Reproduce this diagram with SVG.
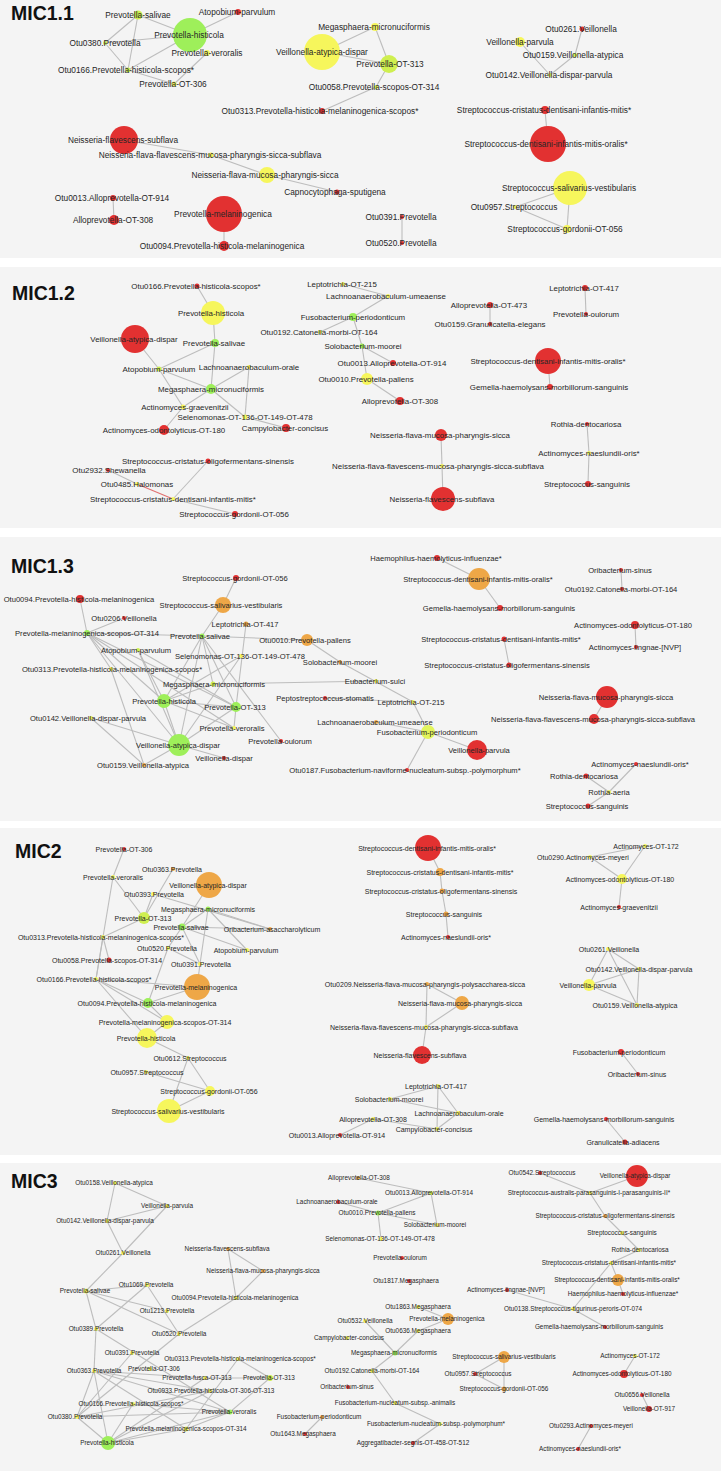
<svg xmlns="http://www.w3.org/2000/svg" width="721" height="1471" viewBox="0 0 721 1471">
<style>
.bg{fill:#f4f4f4}
#connectors line{stroke:#bdbdbd;stroke-width:1.1}
#connectors line.hl{stroke:#e07070}
.r{fill:#e23131}.g{fill:#9eef5a}.y{fill:#f6f65c}.o{fill:#eea747}.yg{fill:#cfef50}
text{font-family:"Liberation Sans",Arial,sans-serif;fill:#262626;text-anchor:middle}
.t1{font-size:8.3px}.t2{font-size:7.9px}.t3{font-size:7.6px}.t4{font-size:7px}.t5{font-size:6.4px}
.ttl{font-size:19.5px;font-weight:bold;fill:#111;text-anchor:start}
</style>
<rect width="721" height="1471" fill="#ffffff"/>
<g id="panels">
<rect class="bg" x="0" y="0" width="721" height="258"/>
<rect class="bg" x="0" y="267" width="721" height="261"/>
<rect class="bg" x="0" y="537" width="721" height="284"/>
<rect class="bg" x="0" y="828" width="721" height="327"/>
<rect class="bg" x="0" y="1163" width="721" height="308"/>
<text class="ttl" x="11" y="20">MIC1.1</text>
<text class="ttl" x="12" y="300">MIC1.2</text>
<text class="ttl" x="11" y="573">MIC1.3</text>
<text class="ttl" x="15" y="858">MIC2</text>
<text class="ttl" x="11" y="1188">MIC3</text>
</g>
<g id="connectors">
<line x1="138" y1="15" x2="190" y2="35"/><line x1="190" y1="35" x2="238" y2="12"/><line x1="138" y1="15" x2="105" y2="43"/><line x1="138" y1="15" x2="128" y2="70"/><line x1="105" y1="43" x2="190" y2="35"/><line x1="105" y1="43" x2="128" y2="70"/><line x1="128" y1="70" x2="190" y2="35"/><line x1="128" y1="70" x2="174" y2="84"/><line x1="207" y1="53" x2="174" y2="84"/>
<line x1="322" y1="52" x2="375" y2="27"/><line x1="375" y1="27" x2="389" y2="64"/><line x1="322" y1="52" x2="389" y2="64"/><line x1="389" y1="64" x2="376" y2="87"/><line x1="376" y1="87" x2="322" y2="111"/>
<line x1="582" y1="29" x2="575" y2="55"/><line x1="575" y1="55" x2="550" y2="75"/><line x1="520" y1="42" x2="550" y2="75"/><line x1="545" y1="110" x2="548" y2="144"/><line x1="570" y1="188" x2="515" y2="207"/><line x1="570" y1="188" x2="567" y2="229"/><line x1="515" y1="207" x2="567" y2="229"/><line x1="402" y1="217" x2="402" y2="243"/>
<line x1="124" y1="140" x2="211" y2="155"/><line x1="211" y1="155" x2="267" y2="175"/><line x1="267" y1="175" x2="337" y2="192"/><line x1="113" y1="198" x2="114" y2="220"/><line x1="224" y1="214" x2="224" y2="246"/>
<line x1="197" y1="286" x2="213" y2="313"/><line x1="213" y1="313" x2="215" y2="343"/><line x1="215" y1="343" x2="159" y2="369"/><line x1="215" y1="343" x2="211" y2="389"/><line x1="135" y1="339" x2="159" y2="369"/><line x1="159" y1="369" x2="183" y2="407"/><line x1="159" y1="369" x2="211" y2="389"/><line x1="211" y1="389" x2="249" y2="367"/><line x1="211" y1="389" x2="245" y2="417"/><line x1="249" y1="367" x2="245" y2="417"/><line x1="245" y1="417" x2="286" y2="428"/><line x1="211" y1="389" x2="183" y2="407"/><line x1="183" y1="407" x2="164" y2="430"/>
<line x1="208" y1="461" x2="173" y2="499"/><line x1="108" y1="470" x2="137" y2="484"/><line class="hl" x1="137" y1="484" x2="173" y2="499"/><line x1="173" y1="499" x2="235" y2="514"/>
<line x1="343" y1="284" x2="388" y2="296"/><line x1="388" y1="296" x2="353" y2="317"/><line x1="353" y1="317" x2="320" y2="332"/><line x1="353" y1="317" x2="362" y2="346"/><line x1="362" y1="346" x2="393" y2="363"/><line x1="362" y1="346" x2="367" y2="379"/><line x1="367" y1="379" x2="400" y2="401"/>
<line x1="490" y1="305" x2="490" y2="324"/><line x1="585" y1="288" x2="586" y2="314"/><line x1="548" y1="361" x2="550" y2="387"/><line x1="587" y1="424" x2="589" y2="453"/><line x1="589" y1="453" x2="588" y2="484"/><line x1="441" y1="435" x2="442" y2="466"/><line x1="442" y1="466" x2="443" y2="499"/>
<line x1="236" y1="578" x2="223" y2="605"/><line x1="223" y1="605" x2="202" y2="636"/><line x1="80" y1="599" x2="87" y2="633"/><line x1="124" y1="618" x2="87" y2="633"/><line x1="87" y1="633" x2="202" y2="636"/><line x1="87" y1="633" x2="164" y2="701"/><line x1="87" y1="633" x2="179" y2="745"/><line x1="87" y1="633" x2="236" y2="707"/><line x1="87" y1="633" x2="234" y2="728"/><line x1="87" y1="633" x2="111" y2="669"/>
<line x1="202" y1="636" x2="164" y2="701"/><line x1="202" y1="636" x2="236" y2="707"/><line x1="202" y1="636" x2="179" y2="745"/><line x1="202" y1="636" x2="213" y2="684"/><line x1="202" y1="636" x2="307" y2="640"/><line x1="202" y1="636" x2="281" y2="741"/><line x1="307" y1="640" x2="340" y2="662"/><line x1="246" y1="624" x2="236" y2="707"/>
<line x1="138" y1="650" x2="164" y2="701"/><line x1="138" y1="650" x2="179" y2="745"/><line x1="138" y1="650" x2="236" y2="707"/><line x1="111" y1="669" x2="144" y2="765"/><line x1="91" y1="718" x2="179" y2="745"/><line x1="91" y1="718" x2="144" y2="765"/><line x1="241" y1="656" x2="179" y2="745"/><line x1="241" y1="656" x2="164" y2="701"/><line x1="213" y1="684" x2="164" y2="701"/><line x1="213" y1="684" x2="376" y2="681"/>
<line x1="164" y1="701" x2="236" y2="707"/><line x1="164" y1="701" x2="234" y2="728"/><line x1="164" y1="701" x2="179" y2="745"/><line x1="236" y1="707" x2="179" y2="745"/><line x1="236" y1="707" x2="234" y2="728"/><line x1="179" y1="745" x2="224" y2="758"/><line x1="179" y1="745" x2="144" y2="765"/>
<line x1="340" y1="662" x2="413" y2="702"/><line x1="325" y1="698" x2="413" y2="702"/><line x1="413" y1="702" x2="428" y2="732"/><line x1="376" y1="722" x2="428" y2="732"/><line x1="428" y1="732" x2="477" y2="750"/><line x1="428" y1="732" x2="407" y2="770"/>
<line x1="437" y1="558" x2="479" y2="579"/><line x1="479" y1="579" x2="500" y2="608"/><line x1="621" y1="570" x2="622" y2="589"/><line x1="635" y1="625" x2="636" y2="647"/><line x1="504" y1="639" x2="509" y2="665"/><line x1="607" y1="697" x2="594" y2="719"/><line x1="636" y1="764" x2="609" y2="792"/><line x1="586" y1="776" x2="609" y2="792"/><line x1="609" y1="792" x2="588" y2="806"/>
<line x1="124" y1="849" x2="113" y2="877"/><line x1="113" y1="877" x2="144" y2="918"/><line x1="113" y1="877" x2="96" y2="979"/><line x1="173" y1="869" x2="144" y2="918"/><line x1="209" y1="885" x2="182" y2="927"/><line x1="153" y1="894" x2="144" y2="918"/><line x1="153" y1="894" x2="270" y2="929"/><line x1="208" y1="909" x2="182" y2="927"/><line x1="208" y1="909" x2="270" y2="929"/><line x1="208" y1="909" x2="247" y2="950"/><line x1="208" y1="909" x2="200" y2="964"/><line x1="144" y1="918" x2="103" y2="937"/>
<line x1="182" y1="927" x2="270" y2="929"/><line x1="182" y1="927" x2="247" y2="950"/><line x1="182" y1="927" x2="168" y2="948"/><line x1="182" y1="927" x2="200" y2="964"/><line x1="103" y1="937" x2="109" y2="960"/><line x1="103" y1="937" x2="96" y2="979"/><line x1="168" y1="948" x2="200" y2="964"/><line x1="168" y1="948" x2="148" y2="1003"/><line x1="200" y1="964" x2="197" y2="987"/>
<line x1="96" y1="979" x2="197" y2="987"/><line x1="96" y1="979" x2="148" y2="1003"/><line x1="96" y1="979" x2="167" y2="1022"/><line x1="96" y1="979" x2="147" y2="1038"/><line x1="148" y1="1003" x2="197" y2="987"/><line x1="148" y1="1003" x2="167" y2="1022"/><line x1="167" y1="1022" x2="147" y2="1038"/><line x1="147" y1="1038" x2="188" y2="1058"/><line x1="188" y1="1058" x2="210" y2="1091"/><line x1="188" y1="1058" x2="169" y2="1111"/><line x1="146" y1="1072" x2="210" y2="1091"/><line x1="210" y1="1091" x2="169" y2="1111"/>
<line x1="428" y1="848" x2="440" y2="872"/><line x1="440" y1="872" x2="442" y2="891"/><line x1="442" y1="891" x2="446" y2="914"/><line x1="446" y1="914" x2="448" y2="937"/><line x1="427" y1="984" x2="462" y2="1003"/><line x1="427" y1="984" x2="426" y2="1027"/><line x1="462" y1="1003" x2="426" y2="1027"/><line x1="426" y1="1027" x2="422" y2="1055"/>
<line x1="438" y1="1086" x2="390" y2="1099"/><line x1="438" y1="1086" x2="458" y2="1113"/><line x1="438" y1="1086" x2="437" y2="1129"/><line x1="390" y1="1099" x2="458" y2="1113"/><line x1="373" y1="1119" x2="437" y2="1129"/><line x1="458" y1="1113" x2="437" y2="1129"/><line x1="340" y1="1135" x2="373" y2="1119"/>
<line x1="645" y1="846" x2="590" y2="857"/><line x1="645" y1="846" x2="622" y2="879"/><line x1="590" y1="857" x2="622" y2="879"/><line x1="622" y1="879" x2="619" y2="907"/><line x1="608" y1="949" x2="639" y2="969"/><line x1="608" y1="949" x2="589" y2="985"/><line x1="608" y1="949" x2="637" y2="1005"/><line x1="639" y1="969" x2="589" y2="985"/><line x1="639" y1="969" x2="637" y2="1005"/><line x1="589" y1="985" x2="637" y2="1005"/><line x1="621" y1="1052" x2="638" y2="1074"/><line x1="606" y1="1119" x2="625" y2="1142"/>
<line x1="115" y1="1183" x2="167" y2="1206"/><line x1="115" y1="1183" x2="107" y2="1221"/><line x1="167" y1="1206" x2="107" y2="1221"/><line x1="107" y1="1221" x2="123" y2="1253"/><line x1="167" y1="1206" x2="123" y2="1253"/><line x1="123" y1="1253" x2="86" y2="1291"/><line x1="228" y1="1249" x2="263" y2="1271"/><line x1="228" y1="1249" x2="236" y2="1298"/><line x1="263" y1="1271" x2="236" y2="1298"/>
<line x1="86" y1="1291" x2="147" y2="1285"/><line x1="86" y1="1291" x2="167" y2="1311"/><line x1="86" y1="1291" x2="179" y2="1334"/><line x1="86" y1="1291" x2="96" y2="1329"/><line x1="147" y1="1285" x2="96" y2="1329"/><line x1="147" y1="1285" x2="179" y2="1334"/><line x1="236" y1="1298" x2="179" y2="1334"/><line x1="96" y1="1329" x2="94" y2="1371"/><line x1="96" y1="1329" x2="230" y2="1412"/><line x1="179" y1="1334" x2="77" y2="1417"/><line x1="132" y1="1353" x2="77" y2="1417"/>
<line x1="238" y1="1359" x2="270" y2="1378"/><line x1="238" y1="1359" x2="186" y2="1429"/><line x1="94" y1="1371" x2="230" y2="1412"/><line x1="94" y1="1371" x2="186" y2="1429"/><line x1="94" y1="1371" x2="210" y2="1391"/><line x1="94" y1="1371" x2="108" y2="1443"/><line x1="94" y1="1371" x2="77" y2="1417"/><line x1="94" y1="1371" x2="205" y2="1378"/><line x1="205" y1="1378" x2="270" y2="1378"/><line x1="270" y1="1378" x2="230" y2="1412"/><line x1="210" y1="1391" x2="77" y2="1417"/>
<line x1="133" y1="1404" x2="230" y2="1412"/><line x1="133" y1="1404" x2="108" y2="1443"/><line x1="77" y1="1417" x2="230" y2="1412"/><line x1="77" y1="1417" x2="108" y2="1443"/><line x1="230" y1="1412" x2="108" y2="1443"/><line x1="230" y1="1412" x2="186" y2="1429"/><line x1="186" y1="1429" x2="108" y2="1443"/><line x1="205" y1="1378" x2="108" y2="1443"/><line x1="210" y1="1391" x2="108" y2="1443"/>
<line x1="358" y1="1178" x2="431" y2="1193"/><line x1="431" y1="1193" x2="378" y2="1213"/><line x1="431" y1="1193" x2="437" y2="1225"/><line x1="338" y1="1202" x2="378" y2="1213"/><line x1="378" y1="1213" x2="437" y2="1225"/><line x1="378" y1="1213" x2="381" y2="1239"/>
<line x1="418" y1="1307" x2="448" y2="1319"/><line x1="448" y1="1319" x2="418" y2="1331"/><line x1="418" y1="1331" x2="395" y2="1353"/><line x1="365" y1="1321" x2="395" y2="1353"/><line x1="395" y1="1353" x2="372" y2="1371"/><line x1="372" y1="1371" x2="395" y2="1403"/><line x1="395" y1="1403" x2="440" y2="1424"/><line x1="440" y1="1424" x2="413" y2="1443"/><line x1="322" y1="1417" x2="305" y2="1434"/>
<line x1="540" y1="1173" x2="590" y2="1193"/><line x1="637" y1="1176" x2="590" y2="1193"/><line x1="590" y1="1193" x2="605" y2="1216"/><line x1="605" y1="1216" x2="622" y2="1233"/><line x1="622" y1="1233" x2="639" y2="1250"/><line x1="639" y1="1250" x2="611" y2="1263"/><line x1="611" y1="1263" x2="618" y2="1280"/><line x1="618" y1="1280" x2="623" y2="1294"/><line x1="611" y1="1263" x2="573" y2="1309"/><line x1="507" y1="1290" x2="573" y2="1309"/><line x1="573" y1="1309" x2="605" y2="1327"/>
<line x1="504" y1="1357" x2="475" y2="1374"/><line x1="504" y1="1357" x2="504" y2="1389"/><line x1="475" y1="1374" x2="504" y2="1389"/><line x1="635" y1="1356" x2="624" y2="1374"/><line x1="642" y1="1395" x2="649" y2="1409"/><line x1="591" y1="1426" x2="578" y2="1449"/>
</g>
<g id="nodes-mic1-1">
<g id="n1-1"><circle class="yg" cx="138" cy="15" r="4.5"/><text class="t1" x="138" y="18">Prevotella-salivae</text></g>
<g id="n1-2"><circle class="r" cx="238" cy="12" r="3"/><text class="t1" x="237" y="15">Atopobium-parvulum</text></g>
<g id="n1-3"><circle class="g" cx="190" cy="35" r="17"/><text class="t1" x="189" y="38">Prevotella-histicola</text></g>
<g id="n1-4"><circle class="yg" cx="105" cy="43" r="2"/><text class="t1" x="105" y="46">Otu0380.Prevotella</text></g>
<g id="n1-5"><circle class="y" cx="207" cy="53" r="3"/><text class="t1" x="207" y="56">Prevotella-veroralis</text></g>
<g id="n1-6"><circle class="yg" cx="128" cy="70" r="2.5"/><text class="t1" x="126" y="73">Otu0166.Prevotella-histicola-scopos*</text></g>
<g id="n1-7"><circle class="y" cx="174" cy="84" r="2.5"/><text class="t1" x="173" y="87">Prevotella-OT-306</text></g>
<g id="n1-8"><circle class="y" cx="375" cy="27" r="4"/><text class="t1" x="374" y="30">Megasphaera-micronuciformis</text></g>
<g id="n1-9"><circle class="y" cx="322" cy="52" r="18"/><text class="t1" x="322" y="55">Veillonella-atypica-dispar</text></g>
<g id="n1-10"><circle class="yg" cx="389" cy="64" r="9"/><text class="t1" x="390" y="67">Prevotella-OT-313</text></g>
<g id="n1-11"><circle class="yg" cx="376" cy="87" r="2"/><text class="t1" x="374" y="90">Otu0058.Prevotella-scopos-OT-314</text></g>
<g id="n1-12"><circle class="r" cx="322" cy="111" r="3"/><text class="t1" x="320" y="114">Otu0313.Prevotella-histicola-melaninogenica-scopos*</text></g>
<g id="n1-13"><circle class="r" cx="582" cy="29" r="2.5"/><text class="t1" x="581" y="32">Otu0261.Veillonella</text></g>
<g id="n1-14"><circle class="y" cx="520" cy="42" r="5"/><text class="t1" x="520" y="45">Veillonella-parvula</text></g>
<g id="n1-15"><circle class="yg" cx="575" cy="55" r="2"/><text class="t1" x="573" y="58">Otu0159.Veillonella-atypica</text></g>
<g id="n1-16"><circle class="y" cx="550" cy="75" r="2"/><text class="t1" x="549" y="78">Otu0142.Veillonella-dispar-parvula</text></g>
<g id="n1-17"><circle class="r" cx="545" cy="110" r="4"/><text class="t1" x="544" y="113">Streptococcus-cristatus-dentisani-infantis-mitis*</text></g>
<g id="n1-18"><circle class="r" cx="548" cy="144" r="18"/><text class="t1" x="546" y="147">Streptococcus-dentisani-infantis-mitis-oralis*</text></g>
<g id="n1-19"><circle class="y" cx="570" cy="188" r="17"/><text class="t1" x="569" y="191">Streptococcus-salivarius-vestibularis</text></g>
<g id="n1-20"><circle class="y" cx="515" cy="207" r="2"/><text class="t1" x="514" y="210">Otu0957.Streptococcus</text></g>
<g id="n1-21"><circle class="y" cx="567" cy="229" r="4"/><text class="t1" x="565" y="232">Streptococcus-gordonii-OT-056</text></g>
<g id="n1-22"><circle class="r" cx="402" cy="217" r="2"/><text class="t1" x="401" y="220">Otu0391.Prevotella</text></g>
<g id="n1-23"><circle class="r" cx="402" cy="243" r="2"/><text class="t1" x="401" y="246">Otu0520.Prevotella</text></g>
<g id="n1-24"><circle class="r" cx="124" cy="140" r="14"/><text class="t1" x="123" y="143">Neisseria-flavescens-subflava</text></g>
<g id="n1-25"><circle class="y" cx="211" cy="155" r="2.5"/><text class="t1" x="210" y="158">Neisseria-flava-flavescens-mucosa-pharyngis-sicca-subflava</text></g>
<g id="n1-26"><circle class="y" cx="267" cy="175" r="8"/><text class="t1" x="265" y="178">Neisseria-flava-mucosa-pharyngis-sicca</text></g>
<g id="n1-27"><circle class="r" cx="337" cy="192" r="2.5"/><text class="t1" x="335" y="195">Capnocytophaga-sputigena</text></g>
<g id="n1-28"><circle class="r" cx="113" cy="198" r="3"/><text class="t1" x="112" y="201">Otu0013.Alloprevotella-OT-914</text></g>
<g id="n1-29"><circle class="r" cx="114" cy="220" r="5"/><text class="t1" x="113" y="223">Alloprevotella-OT-308</text></g>
<g id="n1-30"><circle class="r" cx="224" cy="214" r="18"/><text class="t1" x="223" y="217">Prevotella-melaninogenica</text></g>
<g id="n1-31"><circle class="r" cx="224" cy="246" r="5"/><text class="t1" x="222" y="249">Otu0094.Prevotella-histicola-melaninogenica</text></g>
</g>
<g id="nodes-mic1-2">
<g id="n2-1"><circle class="r" cx="197" cy="286" r="2.5"/><text class="t2" x="196" y="289">Otu0166.Prevotella-histicola-scopos*</text></g>
<g id="n2-2"><circle class="y" cx="213" cy="313" r="12"/><text class="t2" x="211" y="316">Prevotella-histicola</text></g>
<g id="n2-3"><circle class="r" cx="135" cy="339" r="14"/><text class="t2" x="134" y="342">Veillonella-atypica-dispar</text></g>
<g id="n2-4"><circle class="g" cx="215" cy="343" r="4"/><text class="t2" x="214" y="346">Prevotella-salivae</text></g>
<g id="n2-5"><circle class="yg" cx="159" cy="369" r="2.5"/><text class="t2" x="159" y="372">Atopobium-parvulum</text></g>
<g id="n2-6"><circle class="y" cx="249" cy="367" r="2"/><text class="t2" x="249" y="370">Lachnoanaerobaculum-orale</text></g>
<g id="n2-7"><circle class="g" cx="211" cy="389" r="5"/><text class="t2" x="211" y="392">Megasphaera-micronuciformis</text></g>
<g id="n2-8"><circle class="y" cx="183" cy="407" r="2.5"/><text class="t2" x="185" y="410">Actinomyces-graevenitzii</text></g>
<g id="n2-9"><circle class="y" cx="245" cy="417" r="2.5"/><text class="t2" x="245" y="420">Selenomonas-OT-136-OT-149-OT-478</text></g>
<g id="n2-10"><circle class="r" cx="164" cy="430" r="5"/><text class="t2" x="164" y="433">Actinomyces-odontolyticus-OT-180</text></g>
<g id="n2-11"><circle class="r" cx="286" cy="428" r="4"/><text class="t2" x="285" y="431">Campylobacter-concisus</text></g>
<g id="n2-12"><circle class="r" cx="208" cy="461" r="2.5"/><text class="t2" x="208" y="464">Streptococcus-cristatus-oligofermentans-sinensis</text></g>
<g id="n2-13"><circle class="r" cx="108" cy="470" r="2"/><text class="t2" x="109" y="473">Otu2932.Shewanella</text></g>
<g id="n2-14"><circle class="y" cx="137" cy="484" r="2"/><text class="t2" x="137" y="487">Otu0485.Halomonas</text></g>
<g id="n2-15"><circle class="y" cx="173" cy="499" r="2"/><text class="t2" x="173" y="502">Streptococcus-cristatus-dentisani-infantis-mitis*</text></g>
<g id="n2-16"><circle class="r" cx="235" cy="514" r="3"/><text class="t2" x="234" y="517">Streptococcus-gordonii-OT-056</text></g>
<g id="n2-17"><circle class="y" cx="343" cy="284" r="2"/><text class="t2" x="342" y="287">Leptotrichia-OT-215</text></g>
<g id="n2-18"><circle class="y" cx="388" cy="296" r="2"/><text class="t2" x="386" y="299">Lachnoanaerobaculum-umeaense</text></g>
<g id="n2-19"><circle class="g" cx="353" cy="317" r="4"/><text class="t2" x="353" y="320">Fusobacterium-periodonticum</text></g>
<g id="n2-20"><circle class="y" cx="320" cy="332" r="2"/><text class="t2" x="319" y="335">Otu0192.Catonella-morbi-OT-164</text></g>
<g id="n2-21"><circle class="g" cx="362" cy="346" r="2.5"/><text class="t2" x="363" y="349">Solobacterium-moorei</text></g>
<g id="n2-22"><circle class="r" cx="393" cy="363" r="3"/><text class="t2" x="392" y="366">Otu0013.Alloprevotella-OT-914</text></g>
<g id="n2-23"><circle class="y" cx="367" cy="379" r="6"/><text class="t2" x="366" y="382">Otu0010.Prevotella-pallens</text></g>
<g id="n2-24"><circle class="r" cx="400" cy="401" r="4"/><text class="t2" x="400" y="404">Alloprevotella-OT-308</text></g>
<g id="n2-25"><circle class="r" cx="490" cy="305" r="3"/><text class="t2" x="489" y="308">Alloprevotella-OT-473</text></g>
<g id="n2-26"><circle class="r" cx="490" cy="324" r="2"/><text class="t2" x="490" y="327">Otu0159.Granulicatella-elegans</text></g>
<g id="n2-27"><circle class="r" cx="585" cy="288" r="3"/><text class="t2" x="584" y="291">Leptotrichia-OT-417</text></g>
<g id="n2-28"><circle class="r" cx="586" cy="314" r="2"/><text class="t2" x="586" y="317">Prevotella-oulorum</text></g>
<g id="n2-29"><circle class="r" cx="548" cy="361" r="13"/><text class="t2" x="548" y="364">Streptococcus-dentisani-infantis-mitis-oralis*</text></g>
<g id="n2-30"><circle class="r" cx="550" cy="387" r="3"/><text class="t2" x="549" y="390">Gemella-haemolysans-morbillorum-sanguinis</text></g>
<g id="n2-31"><circle class="r" cx="587" cy="424" r="2"/><text class="t2" x="586" y="427">Rothia-dentocariosa</text></g>
<g id="n2-32"><circle class="y" cx="589" cy="453" r="2"/><text class="t2" x="589" y="456">Actinomyces-naeslundii-oris*</text></g>
<g id="n2-33"><circle class="r" cx="588" cy="484" r="3"/><text class="t2" x="587" y="487">Streptococcus-sanguinis</text></g>
<g id="n2-34"><circle class="r" cx="441" cy="435" r="6"/><text class="t2" x="440" y="438">Neisseria-flava-mucosa-pharyngis-sicca</text></g>
<g id="n2-35"><circle class="y" cx="442" cy="466" r="2"/><text class="t2" x="438" y="469">Neisseria-flava-flavescens-mucosa-pharyngis-sicca-subflava</text></g>
<g id="n2-36"><circle class="r" cx="443" cy="499" r="12"/><text class="t2" x="442" y="502">Neisseria-flavescens-subflava</text></g>
</g>
<g id="nodes-mic1-3">
<g id="n3-1"><circle class="r" cx="236" cy="578" r="3"/><text class="t3" x="235" y="581">Streptococcus-gordonii-OT-056</text></g>
<g id="n3-2"><circle class="r" cx="80" cy="599" r="4"/><text class="t3" x="79" y="602">Otu0094.Prevotella-histicola-melaninogenica</text></g>
<g id="n3-3"><circle class="o" cx="223" cy="605" r="8"/><text class="t3" x="221" y="608">Streptococcus-salivarius-vestibularis</text></g>
<g id="n3-4"><circle class="r" cx="124" cy="618" r="2"/><text class="t3" x="124" y="621">Otu0206.Veillonella</text></g>
<g id="n3-5"><circle class="o" cx="246" cy="624" r="2.5"/><text class="t3" x="245" y="627">Leptotrichia-OT-417</text></g>
<g id="n3-6"><circle class="g" cx="87" cy="633" r="3"/><text class="t3" x="87" y="636">Prevotella-melaninogenica-scopos-OT-314</text></g>
<g id="n3-7"><circle class="g" cx="202" cy="636" r="2.5"/><text class="t3" x="200" y="639">Prevotella-salivae</text></g>
<g id="n3-8"><circle class="o" cx="307" cy="640" r="6"/><text class="t3" x="305" y="643">Otu0010.Prevotella-pallens</text></g>
<g id="n3-9"><circle class="yg" cx="138" cy="650" r="2"/><text class="t3" x="136" y="653">Atopobium-parvulum</text></g>
<g id="n3-10"><circle class="y" cx="241" cy="656" r="2"/><text class="t3" x="240" y="659">Selenomonas-OT-136-OT-149-OT-478</text></g>
<g id="n3-11"><circle class="o" cx="340" cy="662" r="2"/><text class="t3" x="340" y="665">Solobacterium-moorei</text></g>
<g id="n3-12"><circle class="y" cx="111" cy="669" r="2"/><text class="t3" x="112" y="672">Otu0313.Prevotella-histicola-melaninogenica-scopos*</text></g>
<g id="n3-13"><circle class="y" cx="376" cy="681" r="2"/><text class="t3" x="375" y="684">Eubacterium-sulci</text></g>
<g id="n3-14"><circle class="yg" cx="213" cy="684" r="2.5"/><text class="t3" x="214" y="687">Megasphaera-micronuciformis</text></g>
<g id="n3-15"><circle class="r" cx="325" cy="698" r="2"/><text class="t3" x="325" y="701">Peptostreptococcus-stomatis</text></g>
<g id="n3-16"><circle class="g" cx="164" cy="701" r="7"/><text class="t3" x="164" y="704">Prevotella-histicola</text></g>
<g id="n3-17"><circle class="g" cx="236" cy="707" r="5"/><text class="t3" x="235" y="710">Prevotella-OT-313</text></g>
<g id="n3-18"><circle class="y" cx="413" cy="702" r="2"/><text class="t3" x="411" y="705">Leptotrichia-OT-215</text></g>
<g id="n3-19"><circle class="y" cx="91" cy="718" r="2"/><text class="t3" x="88" y="721">Otu0142.Veillonella-dispar-parvula</text></g>
<g id="n3-20"><circle class="o" cx="376" cy="722" r="2"/><text class="t3" x="375" y="725">Lachnoanaerobaculum-umeaense</text></g>
<g id="n3-21"><circle class="y" cx="234" cy="728" r="2"/><text class="t3" x="232" y="731">Prevotella-veroralis</text></g>
<g id="n3-22"><circle fill="#e2f55c" cx="428" cy="732" r="7"/><text class="t3" x="427" y="735">Fusobacterium-periodonticum</text></g>
<g id="n3-23"><circle class="r" cx="281" cy="741" r="2"/><text class="t3" x="280" y="744">Prevotella-oulorum</text></g>
<g id="n3-24"><circle class="g" cx="179" cy="745" r="11"/><text class="t3" x="178" y="748">Veillonella-atypica-dispar</text></g>
<g id="n3-25"><circle class="r" cx="477" cy="750" r="10"/><text class="t3" x="479" y="753">Veillonella-parvula</text></g>
<g id="n3-26"><circle class="r" cx="224" cy="758" r="2"/><text class="t3" x="224" y="761">Veillonella-dispar</text></g>
<g id="n3-27"><circle class="o" cx="144" cy="765" r="2"/><text class="t3" x="143" y="768">Otu0159.Veillonella-atypica</text></g>
<g id="n3-28"><circle class="r" cx="407" cy="770" r="2"/><text class="t3" x="405" y="773">Otu0187.Fusobacterium-naviforme-nucleatum-subsp.-polymorphum*</text></g>
<g id="n3-29"><circle class="r" cx="437" cy="558" r="3"/><text class="t3" x="436" y="561">Haemophilus-haemolyticus-influenzae*</text></g>
<g id="n3-30"><circle class="o" cx="479" cy="579" r="11"/><text class="t3" x="478" y="582">Streptococcus-dentisani-infantis-mitis-oralis*</text></g>
<g id="n3-31"><circle class="r" cx="500" cy="608" r="3"/><text class="t3" x="499" y="611">Gemella-haemolysans-morbillorum-sanguinis</text></g>
<g id="n3-32"><circle class="r" cx="621" cy="570" r="2"/><text class="t3" x="620" y="573">Oribacterium-sinus</text></g>
<g id="n3-33"><circle class="r" cx="622" cy="589" r="2"/><text class="t3" x="621" y="592">Otu0192.Catonella-morbi-OT-164</text></g>
<g id="n3-34"><circle class="r" cx="635" cy="625" r="4"/><text class="t3" x="633" y="628">Actinomyces-odontolyticus-OT-180</text></g>
<g id="n3-35"><circle class="r" cx="636" cy="647" r="2"/><text class="t3" x="635" y="650">Actinomyces-lingnae-[NVP]</text></g>
<g id="n3-36"><circle class="r" cx="504" cy="639" r="2.5"/><text class="t3" x="501" y="642">Streptococcus-cristatus-dentisani-infantis-mitis*</text></g>
<g id="n3-37"><circle class="r" cx="509" cy="665" r="2.5"/><text class="t3" x="507" y="668">Streptococcus-cristatus-oligofermentans-sinensis</text></g>
<g id="n3-38"><circle class="r" cx="607" cy="697" r="11"/><text class="t3" x="606" y="700">Neisseria-flava-mucosa-pharyngis-sicca</text></g>
<g id="n3-39"><circle class="r" cx="594" cy="719" r="5"/><text class="t3" x="593" y="722">Neisseria-flava-flavescens-mucosa-pharyngis-sicca-subflava</text></g>
<g id="n3-40"><circle class="r" cx="636" cy="764" r="2"/><text class="t3" x="640" y="767">Actinomyces-naeslundii-oris*</text></g>
<g id="n3-41"><circle class="r" cx="586" cy="776" r="2.5"/><text class="t3" x="584" y="779">Rothia-dentocariosa</text></g>
<g id="n3-42"><circle class="y" cx="609" cy="792" r="2"/><text class="t3" x="609" y="795">Rothia-aeria</text></g>
<g id="n3-43"><circle class="r" cx="588" cy="806" r="2.5"/><text class="t3" x="587" y="809">Streptococcus-sanguinis</text></g>
</g>
<g id="nodes-mic2">
<g id="n4-1"><circle class="r" cx="124" cy="849" r="2"/><text class="t4" x="124" y="851.5">Prevotella-OT-306</text></g>
<g id="n4-2"><circle class="o" cx="173" cy="869" r="2"/><text class="t4" x="172" y="871.5">Otu0363.Prevotella</text></g>
<g id="n4-3"><circle class="y" cx="113" cy="877" r="2"/><text class="t4" x="113" y="879.5">Prevotella-veroralis</text></g>
<g id="n4-4"><circle class="o" cx="209" cy="885" r="13"/><text class="t4" x="208" y="887.5">Veillonella-atypica-dispar</text></g>
<g id="n4-5"><circle class="y" cx="153" cy="894" r="2"/><text class="t4" x="154" y="896.5">Otu0393.Prevotella</text></g>
<g id="n4-6"><circle class="g" cx="208" cy="909" r="2.5"/><text class="t4" x="208" y="911.5">Megasphaera-micronuciformis</text></g>
<g id="n4-7"><circle class="yg" cx="144" cy="918" r="6"/><text class="t4" x="143" y="920.5">Prevotella-OT-313</text></g>
<g id="n4-8"><circle class="g" cx="182" cy="927" r="3.5"/><text class="t4" x="181" y="929.5">Prevotella-salivae</text></g>
<g id="n4-9"><circle class="o" cx="270" cy="929" r="2"/><text class="t4" x="272" y="931.5">Oribacterium-asaccharolyticum</text></g>
<g id="n4-10"><circle class="y" cx="103" cy="937" r="2"/><text class="t4" x="101" y="939.5">Otu0313.Prevotella-histicola-melaninogenica-scopos*</text></g>
<g id="n4-11"><circle class="y" cx="168" cy="948" r="2"/><text class="t4" x="167" y="950.5">Otu0520.Prevotella</text></g>
<g id="n4-12"><circle class="y" cx="247" cy="950" r="2"/><text class="t4" x="246" y="952.5">Atopobium-parvulum</text></g>
<g id="n4-13"><circle class="r" cx="109" cy="960" r="2.5"/><text class="t4" x="107" y="962.5">Otu0058.Prevotella-scopos-OT-314</text></g>
<g id="n4-14"><circle class="y" cx="200" cy="964" r="2"/><text class="t4" x="201" y="966.5">Otu0391.Prevotella</text></g>
<g id="n4-15"><circle class="y" cx="96" cy="979" r="2"/><text class="t4" x="94" y="981.5">Otu0166.Prevotella-histicola-scopos*</text></g>
<g id="n4-16"><circle class="o" cx="197" cy="987" r="13"/><text class="t4" x="196" y="989.5">Prevotella-melaninogenica</text></g>
<g id="n4-17"><circle class="g" cx="148" cy="1003" r="5"/><text class="t4" x="147" y="1005.5">Otu0094.Prevotella-histicola-melaninogenica</text></g>
<g id="n4-18"><circle class="y" cx="167" cy="1022" r="7"/><text class="t4" x="165" y="1024.5">Prevotella-melaninogenica-scopos-OT-314</text></g>
<g id="n4-19"><circle class="y" cx="147" cy="1038" r="10"/><text class="t4" x="146" y="1040.5">Prevotella-histicola</text></g>
<g id="n4-20"><circle class="y" cx="188" cy="1058" r="2"/><text class="t4" x="190" y="1060.5">Otu0612.Streptococcus</text></g>
<g id="n4-21"><circle class="y" cx="146" cy="1072" r="2"/><text class="t4" x="147" y="1074.5">Otu0957.Streptococcus</text></g>
<g id="n4-22"><circle class="y" cx="210" cy="1091" r="5"/><text class="t4" x="209" y="1093.5">Streptococcus-gordonii-OT-056</text></g>
<g id="n4-23"><circle class="y" cx="169" cy="1111" r="12"/><text class="t4" x="168" y="1113.5">Streptococcus-salivarius-vestibularis</text></g>
<g id="n4-24"><circle class="r" cx="428" cy="848" r="13"/><text class="t4" x="427" y="850.5">Streptococcus-dentisani-infantis-mitis-oralis*</text></g>
<g id="n4-25"><circle class="o" cx="440" cy="872" r="4"/><text class="t4" x="440" y="874.5">Streptococcus-cristatus-dentisani-infantis-mitis*</text></g>
<g id="n4-26"><circle class="o" cx="442" cy="891" r="2.5"/><text class="t4" x="441" y="893.5">Streptococcus-cristatus-oligofermentans-sinensis</text></g>
<g id="n4-27"><circle class="o" cx="446" cy="914" r="2.5"/><text class="t4" x="444" y="916.5">Streptococcus-sanguinis</text></g>
<g id="n4-28"><circle class="r" cx="448" cy="937" r="2"/><text class="t4" x="446" y="939.5">Actinomyces-naeslundii-oris*</text></g>
<g id="n4-29"><circle class="o" cx="427" cy="984" r="2"/><text class="t4" x="425" y="986.5">Otu0209.Neisseria-flava-mucosa-pharyngis-polysaccharea-sicca</text></g>
<g id="n4-30"><circle class="o" cx="462" cy="1003" r="7"/><text class="t4" x="460" y="1005.5">Neisseria-flava-mucosa-pharyngis-sicca</text></g>
<g id="n4-31"><circle class="y" cx="426" cy="1027" r="2"/><text class="t4" x="424" y="1029.5">Neisseria-flava-flavescens-mucosa-pharyngis-sicca-subflava</text></g>
<g id="n4-32"><circle class="r" cx="422" cy="1055" r="9"/><text class="t4" x="420" y="1057.5">Neisseria-flavescens-subflava</text></g>
<g id="n4-33"><circle class="y" cx="438" cy="1086" r="2"/><text class="t4" x="436" y="1088.5">Leptotrichia-OT-417</text></g>
<g id="n4-34"><circle class="y" cx="390" cy="1099" r="2"/><text class="t4" x="389" y="1101.5">Solobacterium-moorei</text></g>
<g id="n4-35"><circle class="y" cx="458" cy="1113" r="2"/><text class="t4" x="459" y="1115.5">Lachnoanaerobaculum-orale</text></g>
<g id="n4-36"><circle class="y" cx="373" cy="1119" r="2"/><text class="t4" x="373" y="1121.5">Alloprevotella-OT-308</text></g>
<g id="n4-37"><circle class="y" cx="437" cy="1129" r="2"/><text class="t4" x="434" y="1131.5">Campylobacter-concisus</text></g>
<g id="n4-38"><circle class="r" cx="340" cy="1135" r="2"/><text class="t4" x="337" y="1137.5">Otu0013.Alloprevotella-OT-914</text></g>
<g id="n4-39"><circle class="y" cx="645" cy="846" r="2"/><text class="t4" x="646" y="848.5">Actinomyces-OT-172</text></g>
<g id="n4-40"><circle class="y" cx="590" cy="857" r="2"/><text class="t4" x="583" y="859.5">Otu0290.Actinomyces-meyeri</text></g>
<g id="n4-41"><circle class="y" cx="622" cy="879" r="5"/><text class="t4" x="620" y="881.5">Actinomyces-odontolyticus-OT-180</text></g>
<g id="n4-42"><circle class="r" cx="619" cy="907" r="2"/><text class="t4" x="619" y="909.5">Actinomyces-graevenitzii</text></g>
<g id="n4-43"><circle class="y" cx="608" cy="949" r="2"/><text class="t4" x="609" y="951.5">Otu0261.Veillonella</text></g>
<g id="n4-44"><circle class="y" cx="639" cy="969" r="2"/><text class="t4" x="639" y="971.5">Otu0142.Veillonella-dispar-parvula</text></g>
<g id="n4-45"><circle class="y" cx="589" cy="985" r="6"/><text class="t4" x="588" y="987.5">Veillonella-parvula</text></g>
<g id="n4-46"><circle class="y" cx="637" cy="1005" r="2"/><text class="t4" x="635" y="1007.5">Otu0159.Veillonella-atypica</text></g>
<g id="n4-47"><circle class="r" cx="621" cy="1052" r="3"/><text class="t4" x="619" y="1054.5">Fusobacterium-periodonticum</text></g>
<g id="n4-48"><circle class="r" cx="638" cy="1074" r="2"/><text class="t4" x="637" y="1076.5">Oribacterium-sinus</text></g>
<g id="n4-49"><circle class="r" cx="606" cy="1119" r="2"/><text class="t4" x="604" y="1121.5">Gemella-haemolysans-morbillorum-sanguinis</text></g>
<g id="n4-50"><circle class="r" cx="625" cy="1142" r="2.5"/><text class="t4" x="623" y="1144.5">Granulicatella-adiacens</text></g>
</g>
<g id="nodes-mic3">
<g id="n5-1"><circle class="y" cx="115" cy="1183" r="2"/><text class="t5" x="114" y="1185.3">Otu0158.Veillonella-atypica</text></g>
<g id="n5-2"><circle class="y" cx="167" cy="1206" r="2"/><text class="t5" x="167" y="1208.3">Veillonella-parvula</text></g>
<g id="n5-3"><circle class="y" cx="107" cy="1221" r="2"/><text class="t5" x="105" y="1223.3">Otu0142.Veillonella-dispar-parvula</text></g>
<g id="n5-4"><circle class="y" cx="123" cy="1253" r="2"/><text class="t5" x="123" y="1255.3">Otu0261.Veillonella</text></g>
<g id="n5-5"><circle class="o" cx="228" cy="1249" r="2"/><text class="t5" x="227" y="1251.3">Neisseria-flavescens-subflava</text></g>
<g id="n5-6"><circle class="o" cx="263" cy="1271" r="2"/><text class="t5" x="263" y="1273.3">Neisseria-flava-mucosa-pharyngis-sicca</text></g>
<g id="n5-7"><circle class="y" cx="236" cy="1298" r="2"/><text class="t5" x="235" y="1300.3">Otu0094.Prevotella-histicola-melaninogenica</text></g>
<g id="n5-8"><circle class="y" cx="86" cy="1291" r="2.5"/><text class="t5" x="85" y="1293.3">Prevotella-salivae</text></g>
<g id="n5-9"><circle class="y" cx="147" cy="1285" r="2"/><text class="t5" x="146" y="1287.3">Otu1069.Prevotella</text></g>
<g id="n5-10"><circle class="y" cx="167" cy="1311" r="2"/><text class="t5" x="167" y="1313.3">Otu1213.Prevotella</text></g>
<g id="n5-11"><circle class="y" cx="96" cy="1329" r="2"/><text class="t5" x="96" y="1331.3">Otu0389.Prevotella</text></g>
<g id="n5-12"><circle class="y" cx="179" cy="1334" r="2"/><text class="t5" x="179" y="1336.3">Otu0520.Prevotella</text></g>
<g id="n5-13"><circle class="y" cx="132" cy="1353" r="2"/><text class="t5" x="132" y="1355.3">Otu0391.Prevotella</text></g>
<g id="n5-14"><circle class="y" cx="238" cy="1359" r="2"/><text class="t5" x="240" y="1361.3">Otu0313.Prevotella-histicola-melaninogenica-scopos*</text></g>
<g id="n5-15"><circle class="y" cx="94" cy="1371" r="2"/><text class="t5" x="94" y="1373.3">Otu0363.Prevotella</text></g>
<g id="n5-16"><circle class="y" cx="150" cy="1369" r="2"/><text class="t5" x="154" y="1371.3">Prevotella-OT-306</text></g>
<g id="n5-17"><circle class="y" cx="205" cy="1378" r="2"/><text class="t5" x="197" y="1380.3">Prevotella-fusca-OT-313</text></g>
<g id="n5-18"><circle class="yg" cx="270" cy="1378" r="3"/><text class="t5" x="269" y="1380.3">Prevotella-OT-313</text></g>
<g id="n5-19"><circle class="y" cx="210" cy="1391" r="2"/><text class="t5" x="211" y="1393.3">Otu0933.Prevotella-histicola-OT-306-OT-313</text></g>
<g id="n5-20"><circle class="y" cx="133" cy="1404" r="2"/><text class="t5" x="131" y="1406.3">Otu0166.Prevotella-histicola-scopos*</text></g>
<g id="n5-21"><circle class="g" cx="230" cy="1412" r="2.5"/><text class="t5" x="229" y="1414.3">Prevotella-veroralis</text></g>
<g id="n5-22"><circle class="y" cx="77" cy="1417" r="2"/><text class="t5" x="75" y="1419.3">Otu0380.Prevotella</text></g>
<g id="n5-23"><circle class="y" cx="186" cy="1429" r="2.5"/><text class="t5" x="186" y="1431.3">Prevotella-melaninogenica-scopos-OT-314</text></g>
<g id="n5-24"><circle class="g" cx="108" cy="1443" r="7"/><text class="t5" x="107" y="1445.3">Prevotella-histicola</text></g>
<g id="n5-25"><circle class="o" cx="358" cy="1178" r="2"/><text class="t5" x="359" y="1180.3">Alloprevotella-OT-308</text></g>
<g id="n5-26"><circle class="yg" cx="431" cy="1193" r="2"/><text class="t5" x="429" y="1195.3">Otu0013.Alloprevotella-OT-914</text></g>
<g id="n5-27"><circle class="r" cx="338" cy="1202" r="2"/><text class="t5" x="337" y="1204.3">Lachnoanaerobaculum-orale</text></g>
<g id="n5-28"><circle class="g" cx="378" cy="1213" r="2.5"/><text class="t5" x="377" y="1215.3">Otu0010.Prevotella-pallens</text></g>
<g id="n5-29"><circle class="y" cx="437" cy="1225" r="2"/><text class="t5" x="435" y="1227.3">Solobacterium-moorei</text></g>
<g id="n5-30"><circle class="y" cx="381" cy="1239" r="2"/><text class="t5" x="380" y="1241.3">Selenomonas-OT-136-OT-149-OT-478</text></g>
<g id="n5-31"><circle class="r" cx="402" cy="1258" r="2"/><text class="t5" x="400" y="1260.3">Prevotella-oulorum</text></g>
<g id="n5-32"><circle class="r" cx="409" cy="1281" r="2"/><text class="t5" x="406" y="1283.3">Otu1817.Megasphaera</text></g>
<g id="n5-33"><circle class="y" cx="418" cy="1307" r="2"/><text class="t5" x="418" y="1309.3">Otu1863.Megasphaera</text></g>
<g id="n5-34"><circle class="o" cx="448" cy="1319" r="6"/><text class="t5" x="447" y="1321.3">Prevotella-melaninogenica</text></g>
<g id="n5-35"><circle class="y" cx="418" cy="1331" r="2"/><text class="t5" x="418" y="1333.3">Otu0636.Megasphaera</text></g>
<g id="n5-36"><circle class="y" cx="365" cy="1321" r="2"/><text class="t5" x="365" y="1323.3">Otu0532.Veillonella</text></g>
<g id="n5-37"><circle class="y" cx="347" cy="1338" r="2"/><text class="t5" x="349" y="1340.3">Campylobacter-concisus</text></g>
<g id="n5-38"><circle class="g" cx="395" cy="1353" r="2.5"/><text class="t5" x="394" y="1355.3">Megasphaera-micronuciformis</text></g>
<g id="n5-39"><circle class="y" cx="372" cy="1371" r="2"/><text class="t5" x="372" y="1373.3">Otu0192.Catonella-morbi-OT-164</text></g>
<g id="n5-40"><circle class="r" cx="348" cy="1387" r="2"/><text class="t5" x="347" y="1389.3">Oribacterium-sinus</text></g>
<g id="n5-41"><circle class="y" cx="395" cy="1403" r="2"/><text class="t5" x="395" y="1405.3">Fusobacterium-nucleatum-subsp.-animalis</text></g>
<g id="n5-42"><circle class="o" cx="322" cy="1417" r="2"/><text class="t5" x="319" y="1419.3">Fusobacterium-periodonticum</text></g>
<g id="n5-43"><circle class="y" cx="440" cy="1424" r="2"/><text class="t5" x="436" y="1426.3">Fusobacterium-nucleatum-subsp.-polymorphum*</text></g>
<g id="n5-44"><circle class="r" cx="305" cy="1434" r="2"/><text class="t5" x="303" y="1436.3">Otu1643.Megasphaera</text></g>
<g id="n5-45"><circle class="r" cx="413" cy="1443" r="2"/><text class="t5" x="413" y="1445.3">Aggregatibacter-segnis-OT-458-OT-512</text></g>
<g id="n5-46"><circle class="r" cx="540" cy="1173" r="2"/><text class="t5" x="542" y="1175.3">Otu0542.Streptococcus</text></g>
<g id="n5-47"><circle class="r" cx="637" cy="1176" r="11"/><text class="t5" x="635" y="1178.3">Veillonella-atypica-dispar</text></g>
<g id="n5-48"><circle class="y" cx="590" cy="1193" r="2"/><text class="t5" x="589" y="1195.3">Streptococcus-australis-parasanguinis-I-parasanguinis-II*</text></g>
<g id="n5-49"><circle class="o" cx="605" cy="1216" r="2"/><text class="t5" x="605" y="1218.3">Streptococcus-cristatus-oligofermentans-sinensis</text></g>
<g id="n5-50"><circle class="y" cx="622" cy="1233" r="2"/><text class="t5" x="622" y="1235.3">Streptococcus-sanguinis</text></g>
<g id="n5-51"><circle class="y" cx="639" cy="1250" r="2"/><text class="t5" x="640" y="1252.3">Rothia-dentocariosa</text></g>
<g id="n5-52"><circle class="y" cx="611" cy="1263" r="2"/><text class="t5" x="609" y="1265.3">Streptococcus-cristatus-dentisani-infantis-mitis*</text></g>
<g id="n5-53"><circle class="o" cx="618" cy="1280" r="6"/><text class="t5" x="617" y="1282.3">Streptococcus-dentisani-infantis-mitis-oralis*</text></g>
<g id="n5-54"><circle class="r" cx="623" cy="1294" r="2"/><text class="t5" x="623" y="1296.3">Haemophilus-haemolyticus-influenzae*</text></g>
<g id="n5-55"><circle class="r" cx="507" cy="1290" r="2"/><text class="t5" x="506" y="1292.3">Actinomyces-lingnae-[NVP]</text></g>
<g id="n5-56"><circle class="y" cx="573" cy="1309" r="2"/><text class="t5" x="573" y="1311.3">Otu0138.Streptococcus-tigurinus-peroris-OT-074</text></g>
<g id="n5-57"><circle class="r" cx="605" cy="1327" r="2"/><text class="t5" x="599" y="1329.3">Gemella-haemolysans-morbillorum-sanguinis</text></g>
<g id="n5-58"><circle class="o" cx="504" cy="1357" r="6"/><text class="t5" x="504" y="1359.3">Streptococcus-salivarius-vestibularis</text></g>
<g id="n5-59"><circle class="r" cx="475" cy="1374" r="2"/><text class="t5" x="478" y="1376.3">Otu0957.Streptococcus</text></g>
<g id="n5-60"><circle class="o" cx="504" cy="1389" r="2.5"/><text class="t5" x="504" y="1391.3">Streptococcus-gordonii-OT-056</text></g>
<g id="n5-61"><circle class="y" cx="635" cy="1356" r="2"/><text class="t5" x="630" y="1358.3">Actinomyces-OT-172</text></g>
<g id="n5-62"><circle class="r" cx="624" cy="1374" r="4"/><text class="t5" x="622" y="1376.3">Actinomyces-odontolyticus-OT-180</text></g>
<g id="n5-63"><circle class="r" cx="642" cy="1395" r="2"/><text class="t5" x="642" y="1397.3">Otu0656.Veillonella</text></g>
<g id="n5-64"><circle class="r" cx="649" cy="1409" r="3"/><text class="t5" x="649" y="1411.3">Veillonella-OT-917</text></g>
<g id="n5-65"><circle class="r" cx="591" cy="1426" r="2"/><text class="t5" x="591" y="1428.3">Otu0293.Actinomyces-meyeri</text></g>
<g id="n5-66"><circle class="r" cx="578" cy="1449" r="2"/><text class="t5" x="580" y="1451.3">Actinomyces-naeslundii-oris*</text></g>
</g>
</svg>
